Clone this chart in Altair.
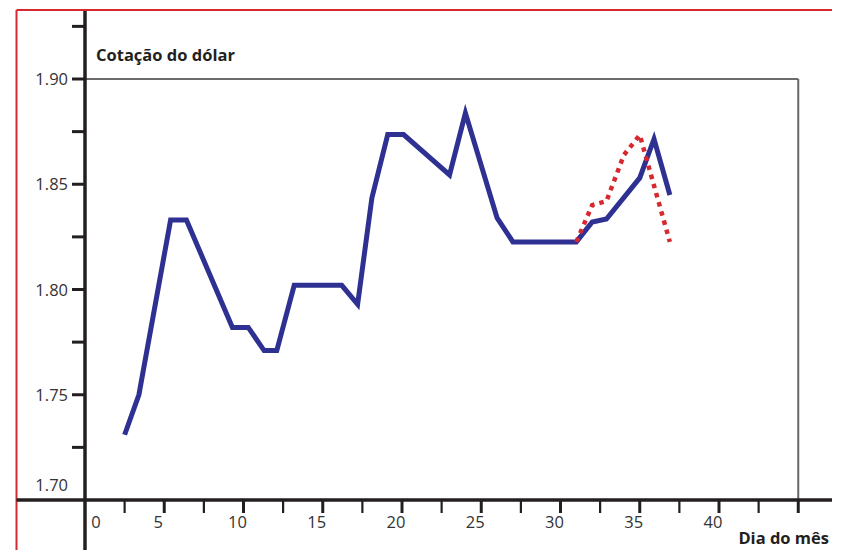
import altair as alt
import pandas as pd

# ---- data ----
days = [2.5, 3.4, 5.4, 6.4, 9.3, 10.3, 11.3, 12.1, 13.2, 16.2, 17.2, 18.1,
        19.1, 20.1, 23.0, 24.0, 26.0, 27.0, 31.0, 32.0, 32.9, 35.0, 35.9, 36.9]
rate = [1.731, 1.750, 1.833, 1.833, 1.782, 1.782, 1.771, 1.771, 1.802, 1.802,
        1.793, 1.8435, 1.8736, 1.8736, 1.8544, 1.8838, 1.834, 1.8226, 1.8226,
        1.8321, 1.8335, 1.853, 1.8715, 1.8449]
proj_days = [31.0, 32.0, 32.9, 34.0, 35.0, 36.9]
proj_rate = [1.8226, 1.8401, 1.8420, 1.8639, 1.8734, 1.8226]

x_major = [5, 10, 15, 20, 25, 30, 35, 40, 45]
x_minor = [2.5, 7.5, 12.5, 17.5, 22.5, 27.5, 32.5, 37.5, 42.5]
x_labels = [5, 10, 15, 20, 25, 30, 35, 40]
y_ticks = [1.725, 1.75, 1.775, 1.80, 1.825, 1.85, 1.875, 1.90, 1.925]
y_labels = ["1.75", "1.80", "1.85", "1.90"]
y_label_vals = [1.75, 1.80, 1.85, 1.90]

title_y = "Cotação do dólar"
title_x = "Dia do mês"

# ---- layout ----
W, H = 824, 542
PX_X = 15.85      # pixels per day
PX_Y = 2105.0     # pixels per unit of rate
X0_PX = 77.0      # where day 0 sits
Y170_PX = 492.0   # where 1.70 sits
XLO = -X0_PX / PX_X
XHI = (W - X0_PX) / PX_X
YLO = 1.70 - (H - Y170_PX) / PX_Y
YHI = 1.70 + Y170_PX / PX_Y

xs = alt.Scale(domain=[XLO, XHI], nice=False, zero=False)
ys = alt.Scale(domain=[YLO, YHI], nice=False, zero=False)

def X(f):
    return alt.X(f, type="quantitative", scale=xs, axis=None)

def Y(f):
    return alt.Y(f, type="quantitative", scale=ys, axis=None)

INK = "#231f20"
RED = "#d7282f"
BLUE = "#2e3192"

red_x = XLO + 8.5 / PX_X
red_top = YHI - 2.0 / PX_Y
tick_len_y = 13.0 / PX_Y
tick_len_x = 13.0 / PX_X

# red frame (top & left)
red_top_line = alt.Chart(pd.DataFrame({"x": [red_x], "x2": [XHI], "y": [red_top]})).mark_rule(
    color=RED, strokeWidth=2).encode(x=X("x"), x2="x2", y=Y("y"))
red_left_line = alt.Chart(pd.DataFrame({"x": [red_x], "y": [YLO], "y2": [red_top]})).mark_rule(
    color=RED, strokeWidth=2).encode(x=X("x"), y=Y("y"), y2="y2")

# gray frame
frame_top = alt.Chart(pd.DataFrame({"x": [0], "x2": [45], "y": [1.90]})).mark_rule(
    color="#3a3a3a", strokeWidth=1.6).encode(x=X("x"), x2="x2", y=Y("y"))
frame_right = alt.Chart(pd.DataFrame({"x": [45], "y": [1.70], "y2": [1.90]})).mark_rule(
    color="#666666", strokeWidth=2).encode(x=X("x"), y=Y("y"), y2="y2")

# axis lines
x_axis = alt.Chart(pd.DataFrame({"x": [red_x], "x2": [XHI], "y": [1.70]})).mark_rule(
    color=INK, strokeWidth=3.5).encode(x=X("x"), x2="x2", y=Y("y"))
y_axis = alt.Chart(pd.DataFrame({"x": [0], "y": [YLO], "y2": [red_top - 1.0 / PX_Y]})).mark_rule(
    color=INK, strokeWidth=3.5).encode(x=X("x"), y=Y("y"), y2="y2")

# ticks
xt_major = alt.Chart(pd.DataFrame({"x": x_major, "y": 1.70, "y2": 1.70 - tick_len_y})).mark_rule(
    color=INK, strokeWidth=3).encode(x=X("x"), y=Y("y"), y2="y2")
xt_minor = alt.Chart(pd.DataFrame({"x": x_minor, "y": 1.70, "y2": 1.70 - tick_len_y})).mark_rule(
    color=INK, strokeWidth=2.2).encode(x=X("x"), y=Y("y"), y2="y2")
yt = alt.Chart(pd.DataFrame({"y": y_ticks, "x": 0.0, "x2": -tick_len_x})).mark_rule(
    color=INK, strokeWidth=3).encode(y=Y("y"), x=X("x"), x2="x2")

# tick labels
LBL = dict(font="Open Sans", fontSize=16.5, color="#333333")
xl = alt.Chart(pd.DataFrame({"x": x_labels, "y": 1.70, "t": [str(v) for v in x_labels]})).mark_text(
    align="center", baseline="middle", dx=-6, dy=23, **LBL).encode(x=X("x"), y=Y("y"), text="t:N")
xl0 = alt.Chart(pd.DataFrame({"x": [0], "y": [1.70], "t": ["0"]})).mark_text(
    align="center", baseline="middle", dx=11, dy=23, **LBL).encode(x=X("x"), y=Y("y"), text="t:N")
yl = alt.Chart(pd.DataFrame({"y": y_label_vals, "x": 0.0, "t": y_labels})).mark_text(
    align="right", baseline="middle", dx=-17, dy=1, **LBL).encode(x=X("x"), y=Y("y"), text="t:N")
yl0 = alt.Chart(pd.DataFrame({"y": [1.70], "x": [0.0], "t": ["1.70"]})).mark_text(
    align="right", baseline="middle", dx=-17, dy=-14, **LBL).encode(x=X("x"), y=Y("y"), text="t:N")

# titles
TT = dict(font="Open Sans", fontSize=16.5, fontWeight="bold", color=INK)
ttl_y = alt.Chart(pd.DataFrame({"x": [0], "y": [1.90], "t": [title_y]})).mark_text(
    align="left", baseline="alphabetic", dx=11, dy=-18, **TT).encode(x=X("x"), y=Y("y"), text="t:N")
ttl_x = alt.Chart(pd.DataFrame({"x": [XHI], "y": [YLO], "t": [title_x]})).mark_text(
    align="right", baseline="alphabetic", dx=-3, dy=-6, **TT).encode(x=X("x"), y=Y("y"), text="t:N")

# data lines
main = alt.Chart(pd.DataFrame({"d": days, "r": rate})).mark_line(
    color=BLUE, strokeWidth=5).encode(x=X("d"), y=Y("r"))
proj = alt.Chart(pd.DataFrame({"d": proj_days, "r": proj_rate})).mark_line(
    color=RED, strokeWidth=4.5, strokeDash=[4.5, 5]).encode(x=X("d"), y=Y("r"))

chart = alt.layer(
    red_top_line, red_left_line, frame_top, frame_right,
    main, proj,
    x_axis, y_axis, xt_major, xt_minor, yt,
    xl, xl0, yl, yl0, ttl_y, ttl_x,
).properties(
    width=W, height=H,
    autosize=alt.AutoSizeParams(type="none"),
    padding=0,
    background="white",
).configure_view(stroke=None)

chart.save("out.html", embed_options={"renderer": "svg", "actions": False})
